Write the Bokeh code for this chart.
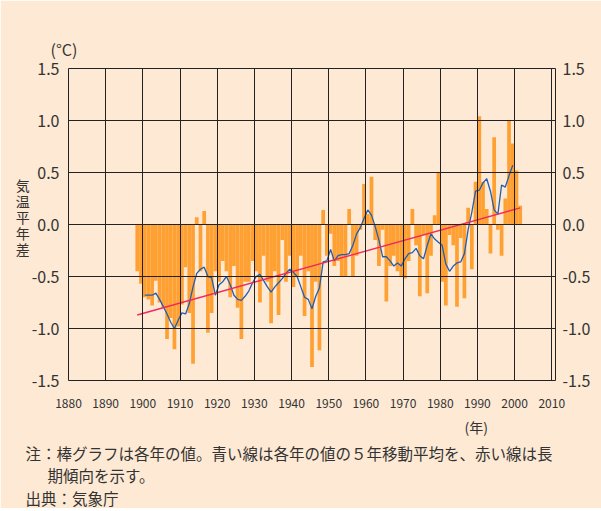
from bokeh.plotting import figure
from bokeh.models import Range1d, LinearAxis, FixedTicker, PrintfTickFormatter, Title, ColumnDataSource
from bokeh.embed import file_html
from bokeh.resources import INLINE

# ---- data ----
years = list(range(1898, 2002))
anomaly = [
    -0.45, -0.57, -0.70, -0.72, -0.78, -0.54, -0.75, -0.80, -1.10, -0.90,  # 1898-1907
    -1.20, -0.98, -0.77, -0.41, -0.85, -1.34, 0.07, -0.45, 0.13, -1.04,    # 1908-1917
    -0.85, -0.45, -0.55, -0.35, -0.45, -0.70, -0.40, -0.80, -1.10, -0.55,  # 1918-1927
    -0.55, -0.35, -0.45, -0.75, -0.30, -0.55, -0.95, -0.45, -0.87, -0.15,  # 1928-1937
    -0.55, -0.30, -0.60, -0.50, -0.30, -0.88, -0.45, -1.37, -0.55, -1.21,  # 1938-1947
    0.14, -0.30, -0.09, -0.40, -0.35, -0.50, -0.50, 0.15, -0.50, -0.30,    # 1948-1957
    -0.05, 0.39, 0.10, 0.46, -0.15, -0.40, -0.05, -0.74, -0.40, -0.30,     # 1958-1967
    -0.45, -0.50, -0.52, -0.35, 0.15, -0.20, -0.69, -0.10, -0.66, -0.30,   # 1968-1977
    0.09, 0.50, -0.55, -0.78, -0.10, -0.20, -0.79, -0.13, -0.71, 0.16,     # 1978-1987
    -0.43, 0.41, 1.04, 0.41, 0.15, -0.28, 0.84, -0.05, -0.30, 0.25,        # 1988-1997
    1.00, 0.78, 0.52, 0.18,                                                # 1998-2001
]

ma_years = list(range(1900, 2000))
moving_avg = [
    -0.68, -0.68, -0.68, -0.66, -0.72, -0.79, -0.86, -0.94, -1.00, -0.92,  # 1900-1909
    -0.85, -0.86, -0.76, -0.60, -0.47, -0.43, -0.41, -0.50, -0.51, -0.68,  # 1910-1919
    -0.58, -0.55, -0.50, -0.58, -0.68, -0.72, -0.73, -0.69, -0.64, -0.56,  # 1920-1929
    -0.50, -0.48, -0.54, -0.60, -0.65, -0.60, -0.56, -0.52, -0.47, -0.43,  # 1930-1939
    -0.46, -0.50, -0.60, -0.70, -0.72, -0.81, -0.69, -0.61, -0.36, -0.35,  # 1940-1949
    -0.24, -0.35, -0.30, -0.29, -0.29, -0.28, -0.20, -0.09, -0.03, 0.06,   # 1950-1959
    0.14, 0.09, -0.02, -0.15, -0.31, -0.31, -0.35, -0.40, -0.37, -0.40,    # 1960-1969
    -0.33, -0.28, -0.27, -0.23, -0.30, -0.33, -0.20, -0.09, -0.14, -0.17,  # 1970-1979
    -0.20, -0.38, -0.45, -0.40, -0.37, -0.36, -0.28, -0.05, 0.12, 0.32,    # 1980-1989
    0.33, 0.40, 0.44, 0.32, 0.14, 0.10, 0.38, 0.36, 0.47, 0.57,            # 1990-1999
]

trend_years = [1898, 2001]
trend_vals = [-0.87, 0.16]

x_ticks = list(range(1880, 2011, 10))
y_ticks = [-1.5, -1.0, -0.5, 0.0, 0.5, 1.0, 1.5]

BG = "#FDE9D4"
TXT = "#333333"
FONT = "Noto Sans CJK JP"

p = figure(frame_width=487, frame_height=312,
           x_range=Range1d(1880, 2011), y_range=Range1d(-1.5, 1.5),
           output_backend="svg", toolbar_location=None,
           min_border_left=68, min_border_right=46, min_border_top=68, min_border_bottom=128,
           background_fill_color=BG, border_fill_color=BG,
           outline_line_color="#222222", outline_line_width=1)

bars = ColumnDataSource(dict(x=[y + 0.5 for y in years], top=anomaly))
p.vbar(x="x", top="top", bottom=0, width=1.0, source=bars,
       fill_color="#FFA033", line_color=None, level="underlay")

p.line([y + 0.5 for y in ma_years], moving_avg, line_color="#1E5FB4", line_width=1.3)
p.line([y + 0.5 for y in trend_years], trend_vals, line_color="#F2285E", line_width=1.4)

for g in (p.xgrid, p.ygrid):
    g.grid_line_color = "#222222"
    g.grid_line_width = 1
    g.level = "glyph"
p.xgrid.ticker = FixedTicker(ticks=x_ticks)
p.ygrid.ticker = FixedTicker(ticks=y_ticks)

def style_axis(ax, size, standoff):
    ax.axis_line_color = None
    ax.major_tick_line_color = None
    ax.minor_tick_line_color = None
    ax.major_label_text_font = FONT
    ax.major_label_text_font_size = size
    ax.major_label_text_color = TXT
    ax.major_label_standoff = standoff

p.xaxis.ticker = FixedTicker(ticks=x_ticks)
style_axis(p.xaxis[0], "12px", 12)

p.yaxis.ticker = FixedTicker(ticks=y_ticks)
p.yaxis.formatter = PrintfTickFormatter(format="%.1f")
style_axis(p.yaxis[0], "16px", 3)

ly = p.yaxis[0]
ly.axis_label = "気\n温\n平\n年\n差\n\u3000"
ly.axis_label_text_font = FONT
ly.axis_label_text_font_size = "14px"
ly.axis_label_text_font_style = "normal"
ly.axis_label_text_color = TXT
ly.axis_label_standoff = -1
ly.axis_label_text_line_height = 0.8
try:
    ly.axis_label_orientation = "horizontal"
except Exception:
    pass

ry = LinearAxis(ticker=FixedTicker(ticks=y_ticks), formatter=PrintfTickFormatter(format="%.1f"))
style_axis(ry, "16px", 1)
p.add_layout(ry, "right")

def title(text, offset, standoff, size, lh=1.0):
    return Title(text=text, align="left", offset=offset, standoff=standoff,
                 text_font=FONT, text_font_size=size, text_font_style="normal",
                 text_color=TXT, text_line_height=lh)

p.add_layout(title("(°C)", -18, 16, "16px"), "above")
p.add_layout(title("(年)", 396, 8, "14px"), "below")
p.add_layout(title("注：棒グラフは各年の値。青い線は各年の値の５年移動平均を、赤い線は長",
                   -43, -2, "15.5px"), "below")
p.add_layout(title("期傾向を示す。", -21, -2, "15.5px"), "below")
p.add_layout(title("出典：気象庁", -43, 0, "15.5px"), "below")

open("out.html", "w").write(file_html(p, INLINE))
